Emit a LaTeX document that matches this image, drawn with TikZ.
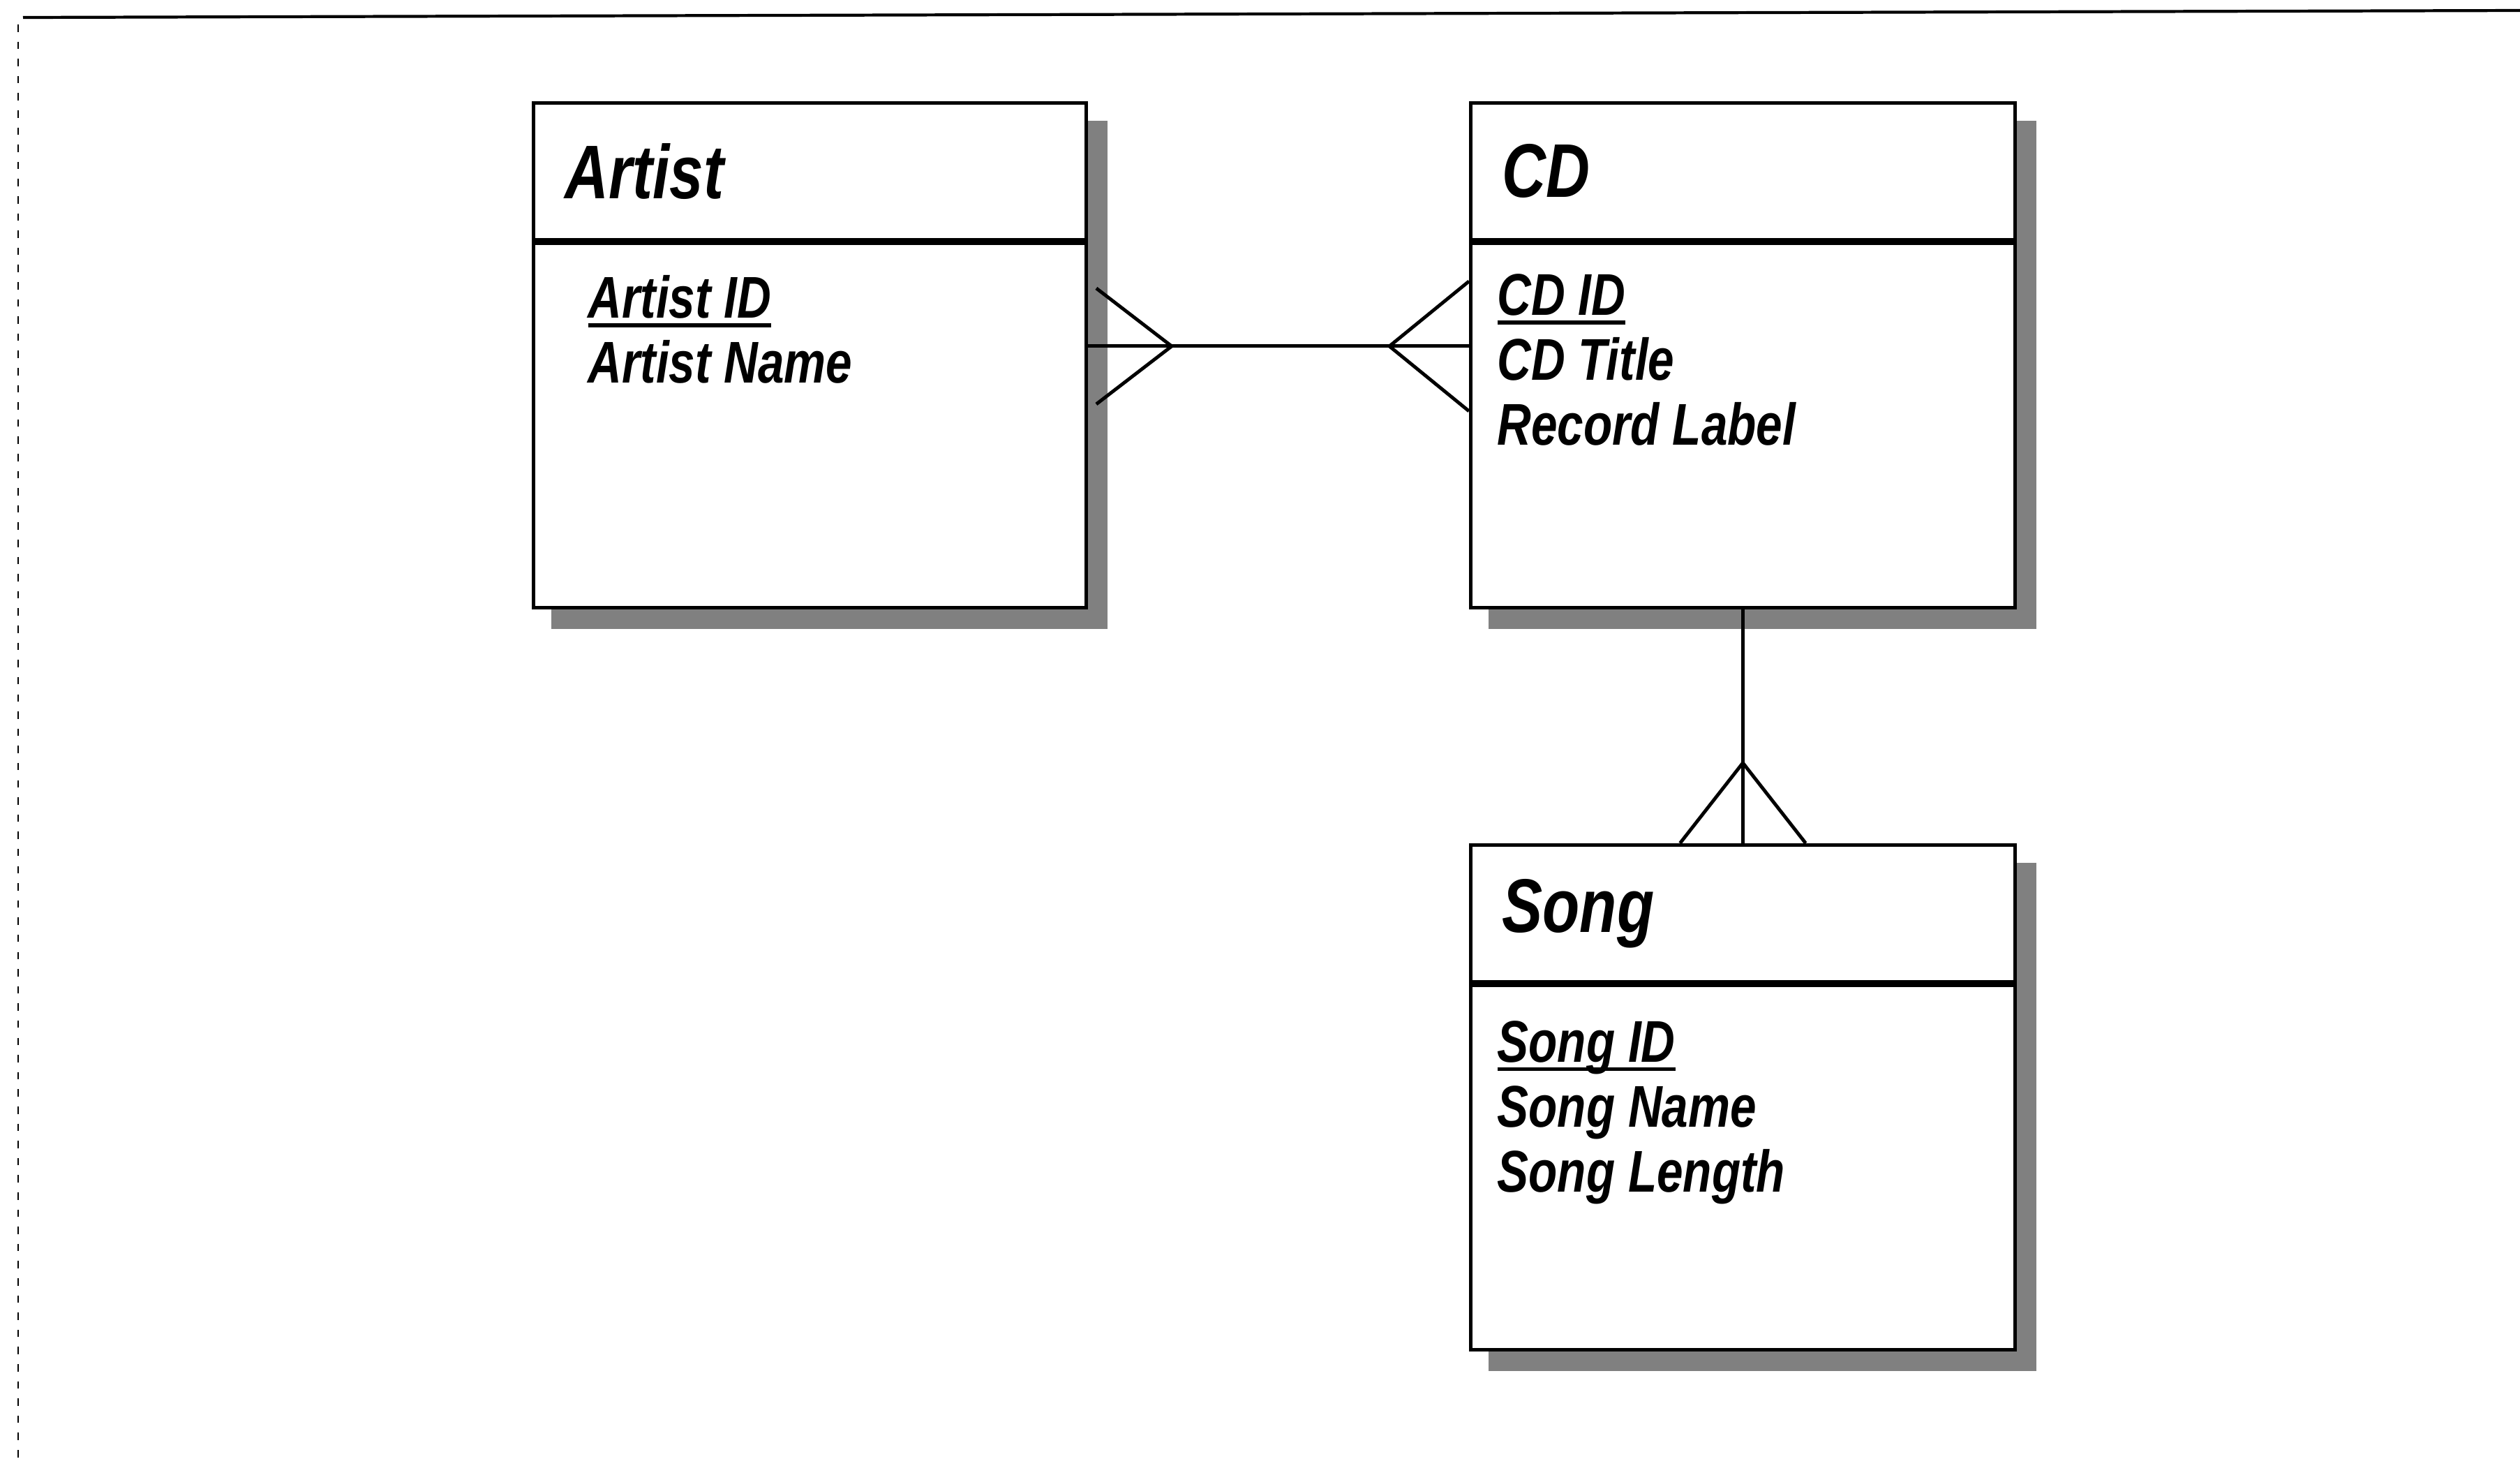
\documentclass[tikz,border=0pt]{standalone}
\usepackage{fontspec}
\newfontfamily\erfont[FakeStretch=0.8]{Liberation Sans}
\usetikzlibrary{positioning, shadows}

% primary key: text with a heavy rule under it
\newcommand{\keyattr}[1]{\setbox0=\hbox{#1}\rlap{\rule[-0.13cm]{\wd0}{1.5pt}}\box0}

\begin{document}
\begin{tikzpicture}[
  entity/.style={rectangle, draw, line width=1.4pt, fill=white,
                 minimum width=7.8cm, inner xsep=0.45cm, text width=6.9cm,
                 align=left, anchor=north west,
                 drop shadow={shadow xshift=0.28cm, shadow yshift=-0.28cm,
                              fill=black!50, draw=black!50, opacity=1}},
  wide/.style={minimum width=7.92cm, text width=7.02cm},
  header/.style={entity, minimum height=1.96cm,
                 font=\erfont\bfseries\itshape\fontsize{31}{34}\selectfont},
  body/.style={entity, minimum height=5.22cm},
  attrs/.style={anchor=north west, align=left, inner sep=0pt,
                font=\erfont\bfseries\itshape\fontsize{24}{26.5}\selectfont},
  link/.style={line width=1.4pt},
  frame/.style={line width=1.2pt},
]
\useasboundingbox (0,0) rectangle (36.11,-20.89);
% scan frame
\draw[frame] (0.33,-0.25) -- (36.11,-0.15);
\draw[line width=0.6pt, dash pattern=on 3pt off 4pt] (0.26,-0.35) -- (0.26,-20.89);

% entities
\node[header, wide] (artist) at (7.62,-1.45) {Artist};
\node[body, wide, below=0pt of artist] (artistB) {};
\node[header, right=5.46cm of artist] (cd) {CD};
\node[body, below=0pt of cd] (cdB) {};
\node[header, below=3.35cm of cdB] (song) {Song};
\node[body, below=0pt of song] (songB) {};

% attributes
\node[attrs, below right=0.48cm and 0.8cm of artistB.north west] (artistA)
  {\keyattr{Artist ID}\\Artist Name};
\node[attrs, below right=0.46cm and 0.4cm of cdB.north west] (cdA)
  {\keyattr{CD ID}\\CD Title\\Record Label};
\node[attrs, below right=0.53cm and 0.4cm of songB.north west] (songA)
  {\keyattr{Song ID}\\Song Name\\Song Length};

% relationships
\coordinate (a1) at ([yshift=-1.5cm]artistB.north east);
\coordinate (c1) at (cdB.west |- a1);
\draw[link] (a1) -- (c1);
\draw[link] ([shift={(0.12,0.83)}]a1) -- ([xshift=1.2cm]a1)
  -- ([shift={(0.12,-0.83)}]a1);
\draw[link] ([yshift=0.93cm]c1) -- ([xshift=-1.14cm]c1) -- ([yshift=-0.93cm]c1);

\draw[link] (cdB.south) -- (song.north);
\draw[link] ([xshift=-0.9cm]song.north) -- ([yshift=1.15cm]song.north)
  -- ([xshift=0.9cm]song.north);
\end{tikzpicture}
\end{document}
